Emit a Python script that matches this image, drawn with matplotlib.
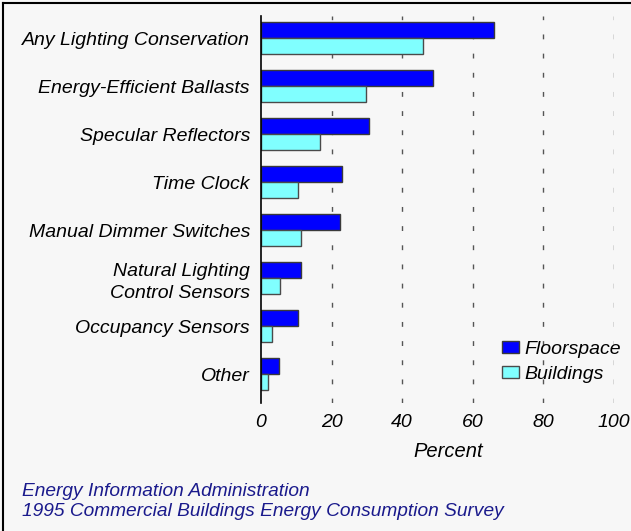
import matplotlib.pyplot as plt
from matplotlib.lines import Line2D
import numpy as np

categories = ["Any Lighting Conservation", "Energy-Efficient Ballasts",
              "Specular Reflectors", "Time Clock", "Manual Dimmer Switches",
              "Natural Lighting\nControl Sensors", "Occupancy Sensors", "Other"]
floorspace = [66.0, 48.6, 30.7, 22.9, 22.5, 11.2, 10.4, 5.1]
buildings = [45.8, 29.7, 16.6, 10.4, 11.2, 5.4, 3.2, 1.9]
xticks = [0, 20, 40, 60, 80, 100]

plt.rcParams['font.family'] = ['Liberation Sans', 'DejaVu Sans']
plt.rcParams['font.style'] = 'italic'

bg = '#f7f7f7'
fig = plt.figure(figsize=(6.31, 5.31), dpi=100, facecolor=bg)
ax = fig.add_axes([261/631, 1 - 403/531, (614 - 261)/631, (403 - 16)/531])
ax.set_facecolor(bg)

y = np.arange(len(categories))
h = 1/3
ax.barh(y - h/2, floorspace, height=h, color='#0000ff', edgecolor='#3a3a3a',
        linewidth=1, label='Floorspace', zorder=3)
ax.barh(y + h/2, buildings, height=h, color='#80ffff', edgecolor='#4a4a4a',
        linewidth=1, label='Buildings', zorder=3)

ax.set_xlim(0, 100)
ax.set_ylim(len(categories) - 0.4, -0.46)
ax.set_yticks(y)
ax.set_yticklabels(categories, fontsize=14, style='italic', linespacing=1.4)
ax.set_xticks(xticks)
ax.set_xticklabels([str(t) for t in xticks], fontsize=14, style='italic')
ax.tick_params(axis='both', length=0)
ax.tick_params(axis='x', pad=8)
ax.tick_params(axis='y', pad=8)

for s in ['top', 'right', 'bottom']:
    ax.spines[s].set_visible(False)
ax.spines['left'].set_color('black')
ax.spines['left'].set_linewidth(1.2)
ax.spines['left'].set_zorder(4)

for t in xticks[1:]:
    ax.axvline(t, color='#555555', linewidth=1, dashes=(3.5, 10.3), zorder=1)

ax.set_xlabel('Percent', fontsize=14.5, style='italic')
ax.xaxis.set_label_coords(0.53, -0.1)

leg = ax.legend(loc='upper left', bbox_to_anchor=(0.66, 0.18), frameon=False,
                fontsize=14, handlelength=0.9, handleheight=0.6,
                handletextpad=0.25, labelspacing=0.4, borderaxespad=0)

fig.text(22/631, 1 - 491/531, 'Energy Information Administration', color='#1a1a8c',
         fontsize=13.8, style='italic', va='center')
fig.text(22/631, 1 - 511/531, '1995 Commercial Buildings Energy Consumption Survey',
         color='#1a1a8c', fontsize=13.8, style='italic', va='center')

fig.add_artist(Line2D([3/631, 1], [1 - 3/531, 1 - 3/531], color='black', linewidth=1.5))
fig.add_artist(Line2D([3/631, 3/631], [0, 1 - 3/531], color='black', linewidth=1.5))

fig.savefig('out.png', dpi=100, facecolor=bg)
